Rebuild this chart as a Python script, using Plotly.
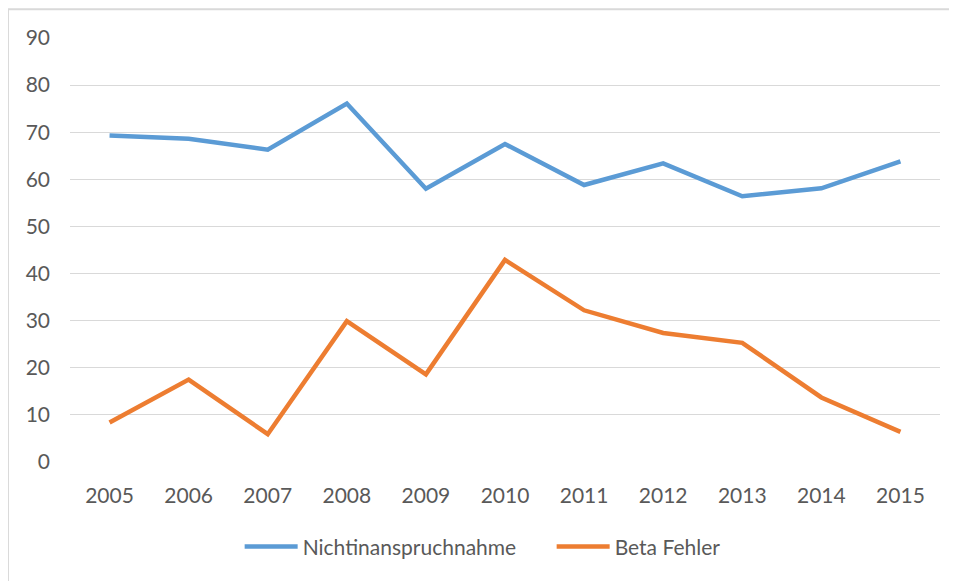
import plotly.graph_objects as go

years = ["2005", "2006", "2007", "2008", "2009", "2010", "2011", "2012", "2013", "2014", "2015"]
nichtinanspruchnahme = [69.3, 68.6, 66.3, 76.1, 58.0, 67.5, 58.8, 63.4, 56.4, 58.1, 63.8]
beta_fehler = [8.4, 17.5, 5.9, 29.9, 18.6, 42.9, 32.2, 27.4, 25.3, 13.7, 6.4]
y_ticks = [0, 10, 20, 30, 40, 50, 60, 70, 80, 90]

FONT = "Lato, Carlito, Calibri, sans-serif"
GRAY = "#595959"

fig = go.Figure()
fig.add_trace(go.Scatter(x=years, y=nichtinanspruchnahme, mode="lines",
                         name="Nichtinanspruchnahme",
                         line=dict(color="#5B9BD5", width=4.5)))
fig.add_trace(go.Scatter(x=years, y=beta_fehler, mode="lines",
                         name="Beta Fehler",
                         line=dict(color="#ED7D31", width=4.5)))

fig.update_layout(
    width=949, height=573,
    margin=dict(l=62, r=17, t=30, b=119),
    paper_bgcolor="white", plot_bgcolor="white",
    font=dict(family=FONT, size=21, color=GRAY),
    showlegend=True,
    legend=dict(orientation="h", x=0.195, xanchor="left", y=-0.2, yanchor="middle",
                font=dict(family=FONT, size=21, color=GRAY), itemwidth=53,
                entrywidth=244, entrywidthmode="pixels",
                traceorder="normal"),
    xaxis=dict(type="category", range=[-0.5, 10.5], showgrid=False, zeroline=False,
               showline=False, ticks="", ticklabelstandoff=19,
               tickfont=dict(family=FONT, size=21, color=GRAY)),
    yaxis=dict(range=[0, 90], tickvals=y_ticks, showgrid=True, gridcolor="#D9D9D9",
               gridwidth=1.3, zeroline=False, showline=False, ticks="",
               ticklabelstandoff=19,
               tickfont=dict(family=FONT, size=21, color=GRAY)),
    shapes=[
        dict(type="line", xref="paper", yref="paper", x0=-0.0713, x1=1.03, y0=1.068, y1=1.068,
             line=dict(color="#D9D9D9", width=2)),
        dict(type="line", xref="paper", yref="paper", x0=-0.0713, x1=-0.0713, y0=1.068, y1=-0.3,
             line=dict(color="#D9D9D9", width=2)),
    ],
)

fig.write_html("out.html")
